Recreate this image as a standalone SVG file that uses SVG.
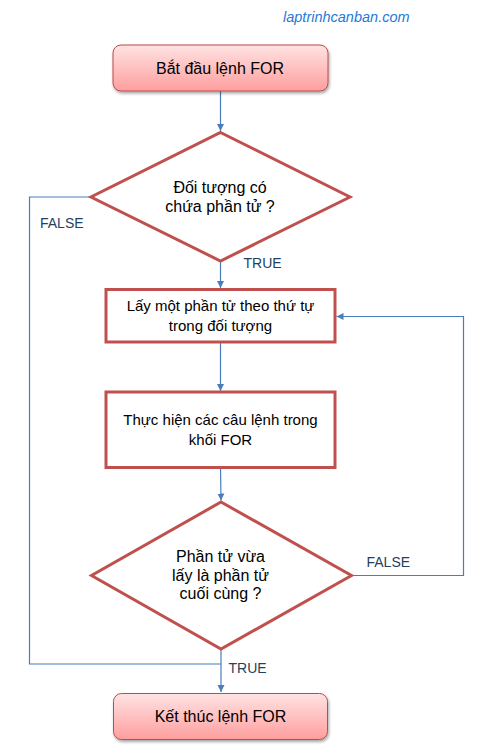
<svg xmlns="http://www.w3.org/2000/svg" width="488" height="754" viewBox="0 0 488 754">
<defs>
<linearGradient id="pink" x1="0" y1="0" x2="0" y2="1">
<stop offset="0" stop-color="#ffe3e3"/>
<stop offset="1" stop-color="#ff9e9e"/>
</linearGradient>
<filter id="sh" x="-10%" y="-20%" width="120%" height="150%">
<feGaussianBlur in="SourceAlpha" stdDeviation="1.5"/>
<feOffset dx="1" dy="2" result="b"/>
<feComponentTransfer><feFuncA type="linear" slope="0.35"/></feComponentTransfer>
<feMerge><feMergeNode/><feMergeNode in="SourceGraphic"/></feMerge>
</filter>
<marker id="arr" markerWidth="8" markerHeight="8" refX="7" refY="4" orient="auto" markerUnits="userSpaceOnUse">
<path d="M0,0.5 L7,4 L0,7.5 Z" fill="#4a7ebb"/>
</marker>
</defs>
<style>
.term{fill:url(#pink);stroke:#be4b48;stroke-width:1}
.proc{fill:#ffffff;stroke:#c0504d;stroke-width:3}
.dec{fill:#ffffff;stroke:#c0504d;stroke-width:3;stroke-linejoin:miter}
.t{font-family:"Liberation Sans",Arial,sans-serif;fill:#000000;text-anchor:middle}
.big{font-size:16px}
.mid{font-size:15px}
.lbl{font-family:"Liberation Sans",Arial,sans-serif;font-size:14px;fill:#243f60}
.conn{fill:none;stroke:#4a7ebb;stroke-width:1.2}
</style>
<text x="283" y="21.5" font-family="Liberation Sans, Arial, sans-serif" font-style="italic" font-size="14.5" fill="#1f7ad6">laptrinhcanban.com</text>
<g id="connectors">
<path class="conn" d="M220.5,91 V131" marker-end="url(#arr)"/>
<path class="conn" d="M220.5,261 V288" marker-end="url(#arr)"/>
<path class="conn" d="M220.5,342 V391" marker-end="url(#arr)"/>
<path class="conn" d="M220.5,468 L221,500.5" marker-end="url(#arr)"/>
<path class="conn" d="M221,649 V692" marker-end="url(#arr)"/>
<path class="conn" d="M90.5,197 H29.5 V664 H221"/>
<path class="conn" d="M351.5,575.5 H463.5 V316.5 H336.5" marker-end="url(#arr)"/>
<text class="lbl" x="40" y="228">FALSE</text>
<text class="lbl" x="243.5" y="268">TRUE</text>
<text class="lbl" x="366.5" y="567">FALSE</text>
<text class="lbl" x="228.5" y="673">TRUE</text>
</g>
<g id="start">
<rect class="term" x="113" y="45" width="215" height="46" rx="8" filter="url(#sh)"/>
<text class="t big" x="220" y="74">Bắt đầu lệnh FOR</text>
</g>
<g id="check-has-element">
<polygon class="dec" points="220.5,132.5 350,197 220.5,261 91,197"/>
<text class="t big" x="220" y="193">Đối tượng có</text>
<text class="t big" x="220" y="211.5">chứa phần tử ?</text>
</g>
<g id="get-element">
<rect class="proc" x="106" y="289.5" width="229" height="52.5"/>
<text class="t mid" x="220.5" y="311">Lấy một phần tử theo thứ tự</text>
<text class="t mid" x="220.5" y="331">trong đối tượng</text>
</g>
<g id="execute-block">
<rect class="proc" x="106" y="392" width="229" height="75.5"/>
<text class="t mid" x="220.5" y="425">Thực hiện các câu lệnh trong</text>
<text class="t mid" x="220.5" y="444.5">khối FOR</text>
</g>
<g id="check-last">
<polygon class="dec" points="221,502 351.5,575.5 221,649 91.5,575.5"/>
<text class="t big" x="220.5" y="562">Phần tử vừa</text>
<text class="t big" x="220.5" y="580.5">lấy là phần tử</text>
<text class="t big" x="220.5" y="599">cuối cùng ?</text>
</g>
<g id="end">
<rect class="term" x="113.5" y="693.5" width="214" height="46" rx="8" filter="url(#sh)"/>
<text class="t big" x="220.5" y="722">Kết thúc lệnh FOR</text>
</g>
</svg>
